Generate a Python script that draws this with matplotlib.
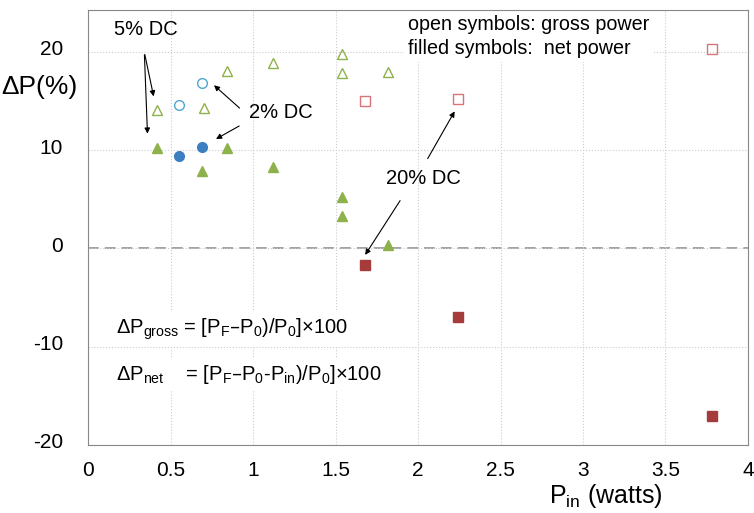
import numpy as np
import matplotlib
matplotlib.use("Agg")
import matplotlib.pyplot as plt
import matplotlib.transforms as mtransforms

plt.rcParams['font.family'] = ['Liberation Sans', 'DejaVu Sans']
plt.rcParams['mathtext.default'] = 'regular'
plt.rcParams['axes.unicode_minus'] = False

# 5% DC (triangles)
tri_x_gross = np.array([0.42, 0.70, 0.84, 1.12, 1.54, 1.54, 1.82])
tri_y_gross = np.array([14.1, 14.3, 18.1, 18.9, 19.8, 17.9, 18.0])
tri_x_net = np.array([0.42, 0.69, 0.84, 1.12, 1.54, 1.54, 1.82])
tri_y_net = np.array([10.2, 7.9, 10.2, 8.3, 5.2, 3.3, 0.3])

# 2% DC (circles)
circ_x_gross = np.array([0.55, 0.69])
circ_y_gross = np.array([14.6, 16.8])
circ_x_net = np.array([0.55, 0.69])
circ_y_net = np.array([9.4, 10.3])

# 20% DC (squares)
sq_x_gross = np.array([1.68, 2.24, 3.78])
sq_y_gross = np.array([15.0, 15.2, 20.3])
sq_x_net = np.array([1.68, 2.24, 3.78])
sq_y_net = np.array([-1.7, -7.0, -17.1])

green = '#8db14b'
fig = plt.figure(figsize=(7.54, 5.13), dpi=100)
ax = fig.add_axes([0.117, 0.133, 0.875, 0.848])

ax.plot(tri_x_gross, tri_y_gross, '^', ms=7, mfc='none', mec=green, mew=1.0, zorder=3)
ax.plot(tri_x_net, tri_y_net, '^', ms=7, color=green, zorder=3)
ax.plot(circ_x_gross, circ_y_gross, 'o', ms=7, mfc='none', mec='#4fa7cf', mew=1.0, zorder=3)
ax.plot(circ_x_net, circ_y_net, 'o', ms=7, color='#3b7fc1', zorder=3)
ax.plot(sq_x_gross, sq_y_gross, 's', ms=7, mfc='none', mec='#d87476', mew=1.0, zorder=3)
ax.plot(sq_x_net, sq_y_net, 's', ms=7, color='#a63b3b', zorder=3)

ax.axhline(0, color='#888888', lw=1.1, ls=(0, (7, 4)), zorder=1)

ax.set_xlim(0, 4)
ax.set_ylim(-20, 24.3)
ax.set_xticks(np.arange(0, 4.01, 0.5))
ax.set_xticklabels(['0', '0.5', '1', '1.5', '2', '2.5', '3', '3.5', '4'])
ax.set_yticks([-20, -10, 0, 10, 20])
ax.set_yticklabels(['-20', '-10', '0', '10', '20'])
ax.grid(True, color='#cccccc', ls=':', lw=0.8, zorder=0)
for s in ax.spines.values():
    s.set_color('#888888')
ax.tick_params(direction='in', length=0, labelsize=15)
ax.tick_params(axis='x', pad=12)
ax.tick_params(axis='y', pad=18)
shift = mtransforms.ScaledTranslation(0, 3 / 72, fig.dpi_scale_trans)
for t in ax.get_yticklabels():
    t.set_transform(t.get_transform() + shift)

ax.set_xlabel('P$_{in}$ (watts)', fontsize=18, x=0.785, labelpad=1)
ax.set_ylabel('ΔP(%)', fontsize=19, rotation=0, ha='center', va='center')
ax.yaxis.set_label_coords(-0.074, 0.823)

box = dict(facecolor='white', edgecolor='none', pad=3)
ax.text(1.94, 21.6, 'open symbols: gross power\nfilled symbols:  net power',
        fontsize=14.2, ha='left', va='center', linespacing=1.35, bbox=box, zorder=2)
ax.text(0.17, -8.2, 'ΔP$_{gross}$ = [P$_F$–P$_0$)/P$_0$]×100', fontsize=14.5,
        va='center', bbox=box, zorder=2)
ax.text(0.17, -12.8, 'ΔP$_{net}$    = [P$_F$–P$_0$-P$_{in}$)/P$_0$]×100', fontsize=14.5,
        va='center', bbox=box, zorder=2)

arr = dict(arrowstyle='-|>', color='black', lw=0.8, mutation_scale=8)
ax.text(0.35, 22.3, '5% DC', fontsize=14.5, ha='center', va='center')
ax.annotate('', xy=(0.40, 15.2), xytext=(0.34, 20.0), arrowprops=arr)
ax.annotate('', xy=(0.36, 11.4), xytext=(0.34, 20.0), arrowprops=arr)
ax.text(1.17, 13.8, '2% DC', fontsize=14.5, ha='center', va='center')
ax.annotate('', xy=(0.75, 16.8), xytext=(0.93, 14.1), arrowprops=arr)
ax.annotate('', xy=(0.76, 11.0), xytext=(0.93, 12.6), arrowprops=arr)
ax.text(2.03, 7.1, '20% DC', fontsize=14.5, ha='center', va='center')
ax.annotate('', xy=(2.23, 14.2), xytext=(2.05, 8.9), arrowprops=arr)
ax.annotate('', xy=(1.67, -0.9), xytext=(1.90, 5.1), arrowprops=arr)

fig.savefig('out.png', dpi=100)
